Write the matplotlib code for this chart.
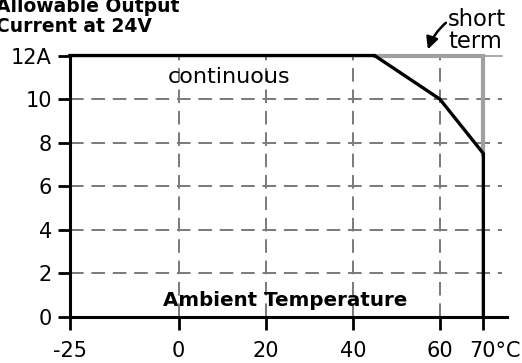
import matplotlib.pyplot as plt
import matplotlib.transforms as mtransforms

plt.rcParams['font.family'] = ['DejaVu Sans']

# derating curve at 24V
temp = [-25, 45, 60, 70, 70]
current = [12, 12, 10, 7.5, 0]

# short term overload boundary
short_temp = [45, 70, 70]
short_current = [12, 12, 7.5]

xticks = [-25, 0, 20, 40, 60, 70]
xticklabels = ['-25', '0', '20', '40', '60', '70°C']
yticks = [0, 2, 4, 6, 8, 10, 12]
yticklabels = ['0', '2', '4', '6', '8', '10', '12A']

fig = plt.figure(figsize=(5.22, 3.63), dpi=100)
ax = fig.add_axes([0.134, 0.127, 0.837, 0.72])
ax.set_xlim(-25, 75.4)
ax.set_ylim(0, 12)

# dashed grid, stops a little short of the axis end
grid_kw = dict(color='#7a7a7a', lw=1.4, dashes=(7, 4), zorder=1)
for yv in yticks[1:-1]:
    ax.plot([-25, 74.3], [yv, yv], **grid_kw)
for xv in xticks[1:-1]:
    ax.plot([xv, xv], [0, 12], **grid_kw)
ax.plot([-25, 74.3], [12, 12], color='#9a9a9a', lw=1.2, zorder=1,
        clip_on=False)

ax.plot(short_temp, short_current, color='#a0a0a0', lw=3, zorder=2,
        solid_joinstyle='miter', clip_on=False)
ax.plot(temp, current, color='black', lw=2.4, zorder=3,
        solid_joinstyle='miter', clip_on=False)

for s in ['top', 'right']:
    ax.spines[s].set_visible(False)
for s in ['left', 'bottom']:
    ax.spines[s].set_linewidth(2.2)

ax.set_xticks(xticks)
ax.set_xticklabels(xticklabels)
ax.set_yticks(yticks)
ax.set_yticklabels(yticklabels)
ax.tick_params(direction='out', length=9, width=2, labelsize=15)
ax.tick_params(axis='x', pad=8)
ax.tick_params(axis='y', pad=4)

# shift the 70°C label so the digits sit under the tick
lbl = ax.get_xticklabels()[-1]
lbl.set_transform(lbl.get_transform() +
                  mtransforms.ScaledTranslation(0.12, 0, fig.dpi_scale_trans))

ax.text(11.5, 11.0, 'continuous', fontsize=16, ha='center', va='center')
ax.text(24.4, 0.75, 'Ambient Temperature', fontsize=14.3, fontweight='bold',
        ha='center', va='center')

fig.text(-0.008, 1.008, 'Allowable Output\nCurrent at 24V', fontsize=13.5,
         fontweight='bold', ha='left', va='top', linespacing=1.05)

fig.text(0.858, 0.978, 'short\nterm', fontsize=16.3,
         ha='left', va='top', linespacing=0.92)
ax.annotate('', xy=(427, 363 - 52), xytext=(448, 363 - 21),
            xycoords='figure pixels', textcoords='figure pixels',
            arrowprops=dict(arrowstyle='-|>', color='black', lw=1.8,
                            mutation_scale=18,
                            connectionstyle='arc3,rad=0.15'))

fig.savefig('out.png', dpi=100)
